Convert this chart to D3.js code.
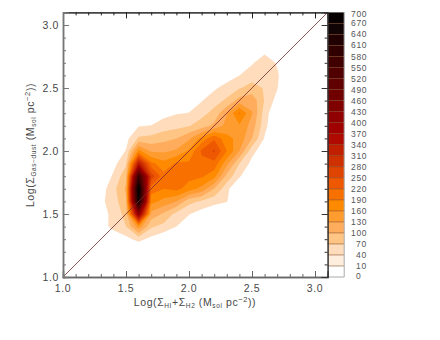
<!DOCTYPE html>
<html>
<head>
<meta charset="utf-8">
<script src="https://d3js.org/d3.v7.min.js"></script>
<style>
  body { margin: 0; background: #fff; }
  svg { display: block; font-family: "Liberation Sans", sans-serif; }
  .lab { fill: #484848; font-size: 10.5px; letter-spacing: .6px; }
  .bar { fill: #555; font-size: 8.5px; letter-spacing: .7px; }
</style>
</head>
<body>
<div id="chart"></div>
<script>
// density grid. rows go from y=2.9 down to y=1.2
var gridX = [1.2, 1.3, 1.4, 1.5, 1.6, 1.7, 1.8, 1.9, 2.0, 2.1, 2.2, 2.3, 2.4, 2.5, 2.6, 2.7, 2.8];
var gridY = [2.9, 2.8, 2.7, 2.6, 2.5, 2.4, 2.3, 2.2, 2.1, 2.0, 1.9, 1.8, 1.7, 1.6, 1.5, 1.4, 1.3, 1.2];
var density = [
  [0, 0, 0, 0, 0, 0, 0, 0, 0, 0, 0, 0, 0, 0, 0, 0, 0],
  [0, 0, 0, 0, 0, 0, 0, 0, 0, 0, 0, 0, 0, 0, 30, 0, 0],
  [0, 0, 0, 0, 0, 0, 0, 0, 0, 0, 0, 0, 20, 36, 60, 36, 0],
  [0, 0, 0, 0, 0, 0, 0, 0, 0, 0, 5, 25, 40, 58, 65, 46, 0],
  [0, 0, 0, 0, 0, 0, 0, 0, 0, 15, 35, 52, 68, 80, 68, 42, 0],
  [0, 0, 0, 0, 0, 0, 0, 10, 20, 38, 58, 75, 112, 120, 68, 28, 0],
  [0, 0, 0, 0, 15, 20, 30, 38, 41, 60, 80, 128, 195, 132, 55, 10, 0],
  [0, 0, 0, 12, 38, 41, 55, 60, 68, 85, 108, 140, 155, 118, 50, 5, 0],
  [0, 0, 0, 30, 75, 80, 90, 100, 125, 170, 215, 170, 150, 100, 37, 0, 0],
  [0, 0, 15, 42, 170, 125, 125, 135, 165, 225, 255, 190, 130, 50, 20, 0, 0],
  [0, 0, 30, 65, 340, 200, 170, 195, 195, 210, 210, 140, 70, 30, 0, 0, 0],
  [0, 10, 45, 90, 580, 270, 200, 195, 200, 195, 170, 90, 45, 0, 0, 0, 0],
  [0, 25, 60, 105, 700, 205, 190, 200, 175, 150, 100, 50, 0, 0, 0, 0, 0],
  [0, 33, 55, 95, 670, 170, 150, 130, 80, 65, 50, 42, 0, 0, 0, 0, 0],
  [0, 25, 50, 80, 420, 120, 95, 60, 42, 25, 15, 0, 0, 0, 0, 0, 0],
  [0, 25, 50, 70, 150, 75, 60, 40, 15, 0, 0, 0, 0, 0, 0, 0, 0],
  [0, 0, 15, 30, 50, 30, 15, 0, 0, 0, 0, 0, 0, 0, 0, 0, 0],
  [0, 0, 0, 0, 0, 0, 0, 0, 0, 0, 0, 0, 0, 0, 0, 0, 0]
];

// colour bar levels and one colour per band between them
var levels = [0, 10, 40, 70, 100, 130, 160, 190, 220, 250, 280, 310, 340, 370, 400, 430, 460, 490, 520, 550, 580, 610, 640, 670, 700];
var bandColors = ["#ffffff", "#feeedd", "#fedcbc", "#ffc585", "#ffad5c", "#ff9c30", "#ff8a00", "#f87000",
  "#ee5800", "#df4400", "#cf3000", "#c02000", "#b00a00", "#a00000", "#900000", "#800000",
  "#700000", "#600000", "#500000", "#400000", "#300000", "#200000", "#100404", "#060000"];

var lineX = [1.0, 3.1];
var lineY = [1.0, 3.1];
var majorTicks = [1.0, 1.5, 2.0, 2.5, 3.0];
var minorTicks = d3.range(10, 32).map(function(d) { return d / 10; });

var svg = d3.select("#chart").append("svg").attr("width", 440).attr("height", 340);

var x = d3.scaleLinear().domain([1.0, 3.1]).range([63, 327.6]);
var y = d3.scaleLinear().domain([1.0, 3.1]).range([277, 12.4]);

// contours: grid index -> data value -> pixel
var values = [];
density.forEach(function(row) { row.forEach(function(v) { values.push(v); }); });

var indexX = d3.scaleLinear().domain([0.5, gridX.length - 0.5]).range([gridX[0], gridX[gridX.length - 1]]);
var indexY = d3.scaleLinear().domain([0.5, gridY.length - 0.5]).range([gridY[0], gridY[gridY.length - 1]]);

var project = d3.geoTransform({
  point: function(px, py) { this.stream.point(x(indexX(px)), y(indexY(py))); }
});
var path = d3.geoPath(project);

var thresholds = levels.slice(2, levels.length - 1);
var contours = d3.contours().size([gridX.length, gridY.length]).thresholds(thresholds)(values);

svg.append("g").selectAll("path")
  .data(contours)
  .enter()
  .append("path")
  .attr("d", path)
  .attr("fill", function(d) { return bandColors[levels.indexOf(d.value)]; });

// 1:1 line
svg.append("line")
  .attr("x1", x(lineX[0])).attr("y1", y(lineY[0]))
  .attr("x2", x(lineX[1])).attr("y2", y(lineY[1]))
  .attr("stroke", "#7a2a2f").attr("stroke-width", 0.8);

// colour bar
var barY = d3.scalePoint().domain(levels).range([277, 12.4]);
var bar = svg.append("g");
bar.selectAll("rect")
  .data(bandColors)
  .enter()
  .append("rect")
  .attr("x", 327.6)
  .attr("width", 16.6)
  .attr("y", function(d, i) { return barY(levels[i + 1]); })
  .attr("height", function(d, i) { return barY(levels[i]) - barY(levels[i + 1]); })
  .attr("fill", function(d) { return d; });
bar.selectAll("line")
  .data(levels.slice(1, levels.length - 1))
  .enter()
  .append("line")
  .attr("x1", 327.6).attr("x2", 344.2)
  .attr("y1", function(d) { return barY(d); })
  .attr("y2", function(d) { return barY(d); })
  .attr("stroke", "#6e2c00").attr("stroke-opacity", 0.6).attr("stroke-width", 0.8);
bar.append("path")
  .attr("d", "M344.2,12.4V277H327.6")
  .attr("fill", "none").attr("stroke", "#aaa").attr("stroke-width", 1);
bar.selectAll("text")
  .data(levels)
  .enter()
  .append("text")
  .attr("class", "bar")
  .attr("x", function(d) { return d < 100 ? 356 : 351; })
  .attr("y", function(d) { return Math.max(14, Math.min(275.5, barY(d))) + 3; })
  .text(function(d) { return d; });

// axes, ticks point inwards
function drawAxis(axis, translate) {
  var g = svg.append("g").attr("transform", translate);
  g.call(axis);
  return g;
}
var stroke = { bottom: ["#666", 1.5], left: ["#777", 1.5], top: ["#222", 1], right: ["#333", 1] };

[["bottom", d3.axisBottom(x), "translate(0,277)", -1],
 ["top", d3.axisTop(x), "translate(0,12.4)", -1],
 ["left", d3.axisLeft(y), "translate(63,0)", -1],
 ["right", d3.axisRight(y), "translate(327.6,0)", -1]].forEach(function(a) {
  var name = a[0];
  [[minorTicks, 3], [majorTicks, 6]].forEach(function(t) {
    var g = drawAxis(a[1].tickValues(t[0]).tickSize(a[3] * t[1]).tickFormat(""), a[2]);
    g.selectAll("line").attr("stroke", stroke[name][0]).attr("stroke-width", 1);
    g.select(".domain").attr("stroke", stroke[name][0]).attr("stroke-width", stroke[name][1]);
    g.selectAll("text").remove();
  });
});

svg.append("g").selectAll("text")
  .data(majorTicks)
  .enter()
  .append("text")
  .attr("class", "lab")
  .attr("x", function(d) { return x(d); })
  .attr("y", 292)
  .attr("text-anchor", "middle")
  .text(function(d) { return d.toFixed(1); });

svg.append("g").selectAll("text")
  .data(majorTicks)
  .enter()
  .append("text")
  .attr("class", "lab")
  .attr("x", 59)
  .attr("y", function(d) { return y(d) + 3.5; })
  .attr("text-anchor", "end")
  .text(function(d) { return d.toFixed(1); });

// axis titles with sub and superscripts
function title(g, parts) {
  var t = g.append("text").attr("class", "lab").attr("text-anchor", "middle");
  parts.forEach(function(p) {
    t.append("tspan")
      .attr("dy", p[1] || 0)
      .style("font-size", (p[2] || 10.5) + "px")
      .text(p[0]);
  });
}
var titleX = svg.append("g").attr("transform", "translate(195,306)");
title(titleX, [["Log(\u03A3"], ["HI", 2, 6.5], ["+\u03A3", -2], ["H2", 2, 6.5], ["  (M", -2], ["sol", 2, 6.5], [" pc", -2], ["\u22122", -4, 7.5], ["))", 4]]);
var titleY = svg.append("g").attr("transform", "translate(34,145) rotate(-90)");
title(titleY, [["Log(\u03A3"], ["Gas\u2212dust", 2, 6.5], ["  (M", -2], ["sol", 2, 6.5], [" pc", -2], ["\u22122", -4, 7.5], ["))", 4]]);
</script>
</body>
</html>
